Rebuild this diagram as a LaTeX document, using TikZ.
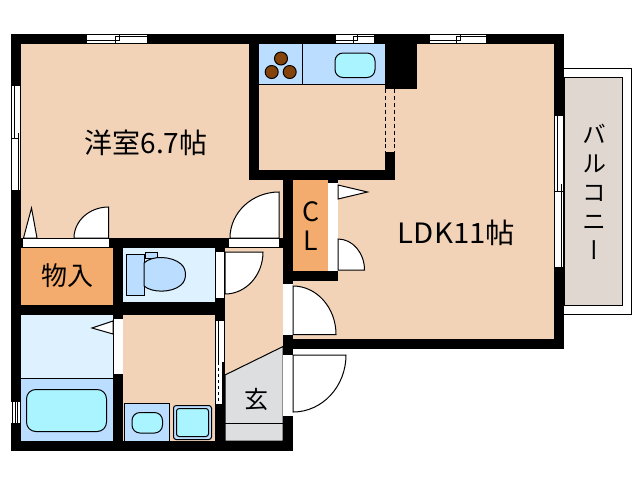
\documentclass[tikz,border=0pt]{standalone}
\usepackage{fontspec}
\setmainfont{Liberation Sans}
\newfontfamily\jpfont{Noto Sans CJK JP}
\newfontfamily\jptate[Script=Kana,RawFeature={+vert}]{Noto Sans CJK JP}
\definecolor{roomfill}{HTML}{F2D3B8}
\definecolor{storefill}{HTML}{F4AB6E}
\definecolor{wetfill}{HTML}{BBDDFF}
\definecolor{palefill}{HTML}{DDF1FF}
\definecolor{waterfill}{HTML}{AAF4FF}
\definecolor{balconyfill}{HTML}{E0D8D0}
\definecolor{entryfill}{HTML}{DCDEE0}
\definecolor{burnerfill}{HTML}{84430A}

\begin{document}
\begin{tikzpicture}[x=0.75pt,y=-0.75pt,line width=0.75pt,
wall/.style={fill=black},
leaf/.style={draw,fill=white},
frame/.style={fill=white},
fixture/.style={draw,fill=wetfill},
basin/.style={draw,fill=waterfill,rounded corners=#1},
label/.style={font=\jpfont,inner sep=0pt}]
    \useasboundingbox (0,0) rectangle (638,480);
    % floors
    \fill[roomfill] (21,44) rectangle (554,339);
    \fill[roomfill] (225,248) rectangle (283,380);
    \fill[roomfill] (123,315) rectangle (215,441);
    \fill[storefill] (21,248) rectangle (113,305);
    \fill[storefill] (293,180) rectangle (328,271);
    \fill[palefill] (123,248) rectangle (215,302);
    \fill[palefill] (21,315) rectangle (113,378);
    \fill[wetfill] (21,378) rectangle (113,441);
    \draw (21,378.5) -- (113,378.5);
    \draw[fill=entryfill] (225,441) -- (225,375) -- (283,346.5) -- (283,441) -- cycle;
    \draw (225,423) -- (283,423);
    % balcony
    \draw (564,68.5) -- (631.5,68.5) -- (631.5,314.5) -- (564,314.5);
    \draw[fill=balconyfill] (564,77.5) rectangle (622.5,305.5);
    % walls
    \foreach \xa/\ya/\xb/\yb in {11/34/564/44, 11/34/21/451, 11/441/293/451,
      249/44/259/180, 249/170/395/180, 385/44/417/89, 385/152/395/180,
      283/180/293/451, 11/238/283/248, 113/238/123/441, 113/302/225/315,
      21/305/113/315, 215/238/225/441, 293/271/338/281, 328/180/338/183,
      554/34/564/349, 283/339/564/349}
      \fill[wall] (\xa,\ya) rectangle (\xb,\yb);
    % kitchen
    \fill[wetfill] (259,44) rectangle (385,84);
    \draw (259,84.5) -- (385,84.5);
    \draw (302.5,44) -- (302.5,84);
    \foreach \cx/\cy in {281/58.5, 271.7/72, 289.7/72}
      \draw[fill=burnerfill] (\cx,\cy) circle (6.5);
    \draw[basin=6] (335,53) rectangle (375,77.5);
    \fill[roomfill] (385.5,89) rectangle (394.5,152);
    \draw[dashed,dash pattern=on 3pt off 2.2pt] (385.5,89) -- (385.5,152);
    \draw[dashed,dash pattern=on 3pt off 2.2pt] (394.5,89) -- (394.5,152);
    % windows
    \foreach \xa/\xb/\xc in {87/147/117, 336/374/355, 430/486/458} {
      \draw[frame,draw=none] (\xa,34) rectangle (\xb,44);
      \draw (\xa,34.5) -- (\xb,34.5);
      \draw (\xa,43.5) -- (\xb,43.5);
      \draw (\xc-2,36.5) -- (\xb,36.5);
      \draw (\xa,40.5) -- (\xc+2,40.5);
      \draw (\xc-2,36.5) -- (\xc-2,43.5);
      \draw (\xc+2,34.5) -- (\xc+2,40.5);
    }
    \fill[frame] (11,86) rectangle (21,190);
    \draw (11.5,86) -- (11.5,190);
    \draw (14.5,86) -- (14.5,138);
    \draw (18.5,133) -- (18.5,190);
    \draw (20.5,86) -- (20.5,190);
    \draw (11,138.5) -- (18.5,138.5);
    \fill[frame] (554,116) rectangle (564,267);
    \draw (554.5,116) -- (554.5,267);
    \draw (557.5,116) -- (557.5,191);
    \draw (561,184) -- (561,267);
    \draw (563,116) -- (563,267);
    \draw (554,191.5) -- (563,191.5);
    \fill[frame] (11,402) rectangle (21,423);
    \foreach \lx in {12,15.5,17,20}
      \draw (\lx,402) -- (\lx,423);
    % door frames
    \draw[frame] (22,238.5) rectangle (109,247.5);
    \draw[frame] (228,238.5) rectangle (279.5,247.5);
    \fill[frame] (215.5,252) rectangle (224,298);
    \fill[frame] (113.5,319) rectangle (122.5,374);
    \fill[frame] (328,183) rectangle (338,271);
    \fill[frame] (283,284) rectangle (293,335);
    \fill[frame] (283,355) rectangle (293,416);
    \fill[frame] (215.5,321) rectangle (224,404);
    \draw (218.5,321) -- (218.5,362);
    \draw[dashed,dash pattern=on 2.5pt off 2pt] (218.5,362) -- (218.5,404);
    \fill[wall] (222,362) rectangle (224.5,404);
    \draw (215.5,321) -- (215.5,404);
    % door leaves
    \draw[leaf] (108.5,238) -- (108.5,207) arc[start angle=-90,end angle=-180,x radius=34.5,y radius=31] -- cycle;
    \draw[leaf] (279,238) -- (279,192) arc[start angle=-90,end angle=-180,x radius=49,y radius=46] -- cycle;
    \draw[leaf] (225,252) -- (263,252) arc[start angle=0,end angle=90,x radius=38,y radius=42] -- cycle;
    \draw[leaf] (338,270) -- (338,239) arc[start angle=-90,end angle=0,x radius=26.5,y radius=31] -- cycle;
    \draw[leaf] (293,334.5) -- (293,286) arc[start angle=-90,end angle=0,x radius=43,y radius=48.5] -- cycle;
    \draw[leaf] (293,355) -- (346,355) arc[start angle=0,end angle=90,x radius=53,y radius=57] -- cycle;
    \draw[leaf] (23.5,238) -- (31.5,208) -- (37,238) -- cycle;
    \draw[leaf] (338,185) -- (367.5,192) -- (338,199) -- cycle;
    \draw[leaf] (113,321) -- (92,328) -- (113,334) -- cycle;
    % toilet
    \draw[fixture] (126.5,254.5) rectangle (144.5,295.5);
    \draw[fixture] (145.5,252.5) rectangle (157.5,258.5);
    \draw[fixture] (144,263) .. controls (152,255) and (172,256) .. (181,264)
      .. controls (187,269) and (187,280) .. (181,285)
      .. controls (172,293) and (152,293) .. (144,286) -- cycle;
    % bath and washroom
    \draw[basin=7] (26.5,389.5) rectangle (106.5,431.5);
    \draw[fixture] (124.5,441) -- (124.5,403.5) -- (169.5,403.5) -- (169.5,441);
    \draw[basin=6] (132,412.5) rectangle (162.5,433);
    \draw[fixture,fill=wetfill,rounded corners=2] (173.5,405.5) rectangle (211.5,439.5);
    \draw[basin=2] (176.5,408.5) rectangle (208.5,436.5);
    % texts
    \node[label,font=\jpfont\fontsize{21}{22}\selectfont] (westernroom) at (146,143) {洋室6.7帖};
    \node[label,font=\jpfont\fontsize{21}{22}\selectfont,xscale=1.05] (ldk) at (456.5,233) {LDK11帖};
    \node[label,font=\jpfont\fontsize{19.5}{20}\selectfont] (storage) at (67,276) {物入};
    \node[label,font=\jpfont\fontsize{20}{21}\selectfont] (closetc) at (311,212) {C};
    \node[label,font=\jpfont\fontsize{20}{21}\selectfont] (closetl) at (311,241) {L};
    \node[label,font=\jpfont\fontsize{18}{19}\selectfont] (entrance) at (256.5,399) {玄};
    \node[label,font=\jptate\fontsize{18}{21.7}\selectfont,align=center] (balcony) at (594,192) {バ\\ル\\コ\\ニ\\ー};
\end{tikzpicture}
\end{document}
